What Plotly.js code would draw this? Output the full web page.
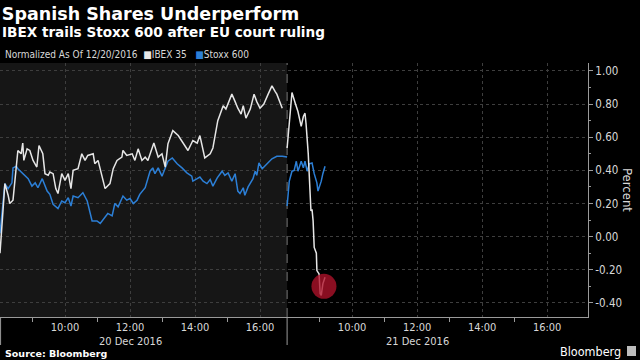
<!DOCTYPE html>
<html>
<head>
<meta charset="utf-8">
<script src="https://cdn.plot.ly/plotly-3.0.1.min.js"></script>
<style>
html,body{margin:0;padding:0;background:#000;}
#chart{width:640px;height:360px;}
</style>
</head>
<body>
<div id="chart"></div>
<script>
// ---------- DATA ----------
const seriesNames = ["IBEX 35", "Stoxx 600"];
const dayDates = ["2016-12-20", "2016-12-21"];
const dayLabels = ["20 Dec 2016", "21 Dec 2016"];
const majorHours = [10, 12, 14, 16];
const hourLabels = ["10:00", "12:00", "14:00", "16:00"];
const minorHours = [9, 11, 13, 15];
const yTickValues = [-0.4, -0.2, 0, 0.2, 0.4, 0.6, 0.8, 1.0];
const yTickLabels = ["-0.40", "-0.20", "0.00", "0.20", "0.40", "0.60", "0.80", "1.00"];

const ibexTimes = [
 "2016-12-20 08:00","2016-12-20 08:04","2016-12-20 08:09","2016-12-20 08:15","2016-12-20 08:18","2016-12-20 08:24",
 "2016-12-20 08:30","2016-12-20 08:33","2016-12-20 08:39","2016-12-20 08:42","2016-12-20 08:44","2016-12-20 08:50",
 "2016-12-20 08:55","2016-12-20 09:01","2016-12-20 09:08","2016-12-20 09:12","2016-12-20 09:19","2016-12-20 09:23",
 "2016-12-20 09:29","2016-12-20 09:32","2016-12-20 09:38","2016-12-20 09:43","2016-12-20 09:47","2016-12-20 09:54",
 "2016-12-20 10:00","2016-12-20 10:06","2016-12-20 10:11","2016-12-20 10:15","2016-12-20 10:24","2016-12-20 10:31",
 "2016-12-20 10:37","2016-12-20 10:42","2016-12-20 10:52","2016-12-20 10:55","2016-12-20 11:01","2016-12-20 11:10",
 "2016-12-20 11:14","2016-12-20 11:23","2016-12-20 11:29","2016-12-20 11:36","2016-12-20 11:45","2016-12-20 11:47",
 "2016-12-20 11:54","2016-12-20 12:04","2016-12-20 12:09","2016-12-20 12:15","2016-12-20 12:22","2016-12-20 12:28",
 "2016-12-20 12:33","2016-12-20 12:44","2016-12-20 12:52","2016-12-20 12:59","2016-12-20 13:05","2016-12-20 13:10",
 "2016-12-20 13:19","2016-12-20 13:29","2016-12-20 13:38","2016-12-20 13:47","2016-12-20 13:56","2016-12-20 14:04",
 "2016-12-20 14:09","2016-12-20 14:15","2016-12-20 14:18","2016-12-20 14:28","2016-12-20 14:33","2016-12-20 14:42",
 "2016-12-20 14:46","2016-12-20 14:52","2016-12-20 14:57","2016-12-20 15:08","2016-12-20 15:14","2016-12-20 15:19",
 "2016-12-20 15:25","2016-12-20 15:29","2016-12-20 15:34","2016-12-20 15:42","2016-12-20 15:49","2016-12-20 15:54",
 "2016-12-20 16:00","2016-12-20 16:07","2016-12-20 16:15","2016-12-20 16:22","2016-12-20 16:28","2016-12-20 16:31",
 "2016-12-20 16:41",
 "2016-12-21 08:00","2016-12-21 08:09","2016-12-21 08:15","2016-12-21 08:20","2016-12-21 08:26","2016-12-21 08:30",
 "2016-12-21 08:33","2016-12-21 08:35","2016-12-21 08:39","2016-12-21 08:41","2016-12-21 08:44","2016-12-21 08:46",
 "2016-12-21 08:48","2016-12-21 08:50","2016-12-21 08:54","2016-12-21 08:55","2016-12-21 08:59","2016-12-21 09:01",
 "2016-12-21 09:03","2016-12-21 09:06","2016-12-21 09:10"
];
const ibexValues = [
 -0.10,0.10,0.32,0.25,0.20,0.22,
 0.40,0.52,0.50,0.565,0.46,0.53,
 0.52,0.46,0.42,0.55,0.50,0.38,
 0.37,0.39,0.38,0.29,0.26,0.38,
 0.34,0.38,0.29,0.40,0.41,0.50,
 0.46,0.49,0.50,0.44,0.46,0.34,
 0.29,0.32,0.41,0.46,0.48,0.52,
 0.49,0.50,0.46,0.53,0.46,0.48,
 0.46,0.565,0.48,0.50,0.42,0.56,
 0.64,0.61,0.565,0.52,0.58,0.565,
 0.61,0.52,0.475,0.50,0.535,0.70,
 0.74,0.79,0.77,0.86,0.815,0.775,
 0.74,0.79,0.715,0.77,0.86,0.815,
 0.775,0.80,0.86,0.91,0.875,0.86,
 0.775,
 0.535,0.87,0.805,0.755,0.665,0.725,
 0.745,0.68,0.50,0.32,0.155,0.165,
 0.095,-0.065,-0.10,-0.205,-0.225,-0.345,
 -0.355,-0.285,-0.245
];

const stoxxTimes = [
 "2016-12-20 08:00","2016-12-20 08:09","2016-12-20 08:15","2016-12-20 08:22","2016-12-20 08:24","2016-12-20 08:30",
 "2016-12-20 08:33","2016-12-20 08:42","2016-12-20 08:52","2016-12-20 08:59","2016-12-20 09:05","2016-12-20 09:10",
 "2016-12-20 09:18","2016-12-20 09:27","2016-12-20 09:32","2016-12-20 09:38","2016-12-20 09:47","2016-12-20 09:54",
 "2016-12-20 10:00","2016-12-20 10:06","2016-12-20 10:11","2016-12-20 10:15","2016-12-20 10:24","2016-12-20 10:33",
 "2016-12-20 10:41","2016-12-20 10:50","2016-12-20 10:59","2016-12-20 11:05","2016-12-20 11:14","2016-12-20 11:19",
 "2016-12-20 11:27","2016-12-20 11:32","2016-12-20 11:38","2016-12-20 11:47","2016-12-20 11:54","2016-12-20 12:00",
 "2016-12-20 12:06","2016-12-20 12:13","2016-12-20 12:18","2016-12-20 12:28","2016-12-20 12:37","2016-12-20 12:42",
 "2016-12-20 12:46","2016-12-20 12:52","2016-12-20 12:59","2016-12-20 13:05","2016-12-20 13:10","2016-12-20 13:18",
 "2016-12-20 13:27","2016-12-20 13:36","2016-12-20 13:45","2016-12-20 13:54","2016-12-20 13:56","2016-12-20 14:04",
 "2016-12-20 14:09","2016-12-20 14:15","2016-12-20 14:22","2016-12-20 14:28","2016-12-20 14:33","2016-12-20 14:41",
 "2016-12-20 14:50","2016-12-20 14:55","2016-12-20 15:01","2016-12-20 15:08","2016-12-20 15:14","2016-12-20 15:19",
 "2016-12-20 15:23","2016-12-20 15:29","2016-12-20 15:32","2016-12-20 15:38","2016-12-20 15:47","2016-12-20 15:51",
 "2016-12-20 15:54","2016-12-20 15:58","2016-12-20 16:04","2016-12-20 16:13","2016-12-20 16:22","2016-12-20 16:31",
 "2016-12-20 16:41","2016-12-20 16:50",
 "2016-12-21 08:00","2016-12-21 08:04","2016-12-21 08:09","2016-12-21 08:13","2016-12-21 08:17","2016-12-21 08:20",
 "2016-12-21 08:26","2016-12-21 08:30","2016-12-21 08:33","2016-12-21 08:37","2016-12-21 08:41","2016-12-21 08:46",
 "2016-12-21 08:50","2016-12-21 08:55","2016-12-21 08:57","2016-12-21 09:03","2016-12-21 09:06","2016-12-21 09:10"
];
const stoxxValues = [
 0.02,0.32,0.29,0.325,0.415,0.425,
 0.41,0.38,0.35,0.305,0.325,0.295,
 0.35,0.275,0.255,0.195,0.17,0.215,
 0.205,0.235,0.185,0.245,0.235,0.265,
 0.215,0.095,0.095,0.08,0.115,0.14,
 0.125,0.20,0.18,0.245,0.22,0.23,
 0.20,0.22,0.255,0.295,0.395,0.415,
 0.38,0.415,0.365,0.415,0.455,0.475,
 0.44,0.415,0.385,0.365,0.335,0.35,
 0.36,0.335,0.32,0.345,0.305,0.355,
 0.395,0.37,0.385,0.335,0.38,0.275,
 0.26,0.295,0.25,0.30,0.35,0.395,
 0.37,0.445,0.41,0.44,0.47,0.485,
 0.485,0.48,
 0.185,0.335,0.395,0.40,0.455,0.395,
 0.455,0.415,0.455,0.395,0.44,0.445,
 0.38,0.325,0.275,0.335,0.38,0.425
];

const highlightTime = ["2016-12-21 09:08"];
const highlightValue = [-0.30];

// ---------- AXIS MAPPING (overnight gap removed, like a rangebreak) ----------
const SESSION_OPEN = 8;        // 08:00
const SESSION_SPAN = 8.833;    // displayed session length per day (hours)
const AXIS_END = 18.09;

function toAxis(ts) {
  const [d, hm] = ts.split(" ");
  const [h, m] = hm.split(":").map(Number);
  const dayIdx = dayDates.indexOf(d);
  return dayIdx * SESSION_SPAN + (h + m / 60 - SESSION_OPEN);
}
function hourToAxis(dayIdx, h) { return dayIdx * SESSION_SPAN + (h - SESSION_OPEN); }

function buildXY(times, values) {
  const x = [], y = [];
  let prevDay = null;
  times.forEach((t, i) => {
    const d = t.split(" ")[0];
    if (prevDay !== null && d !== prevDay) { x.push(null); y.push(null); }
    x.push(toAxis(t)); y.push(values[i]);
    prevDay = d;
  });
  return {x, y};
}

const ibex = buildXY(ibexTimes, ibexValues);
const stoxx = buildXY(stoxxTimes, stoxxValues);

const tickvals = [], ticktext = [], minorvals = [];
dayDates.forEach((d, di) => {
  majorHours.forEach((h, hi) => {
    tickvals.push(hourToAxis(di, h));
    ticktext.push(hourLabels[hi]);
  });
  minorHours.forEach(h => minorvals.push(hourToAxis(di, h)));
});

const WHITE = "#e6e6e6", BLUE = "#2c7fd6";
const FONT = "'DejaVu Sans Condensed', 'DejaVu Sans', sans-serif";
const BOLD = "'DejaVu Sans', sans-serif";

const traces = [
  {x: stoxx.x, y: stoxx.y, name: seriesNames[1], type: "scatter", mode: "lines",
   line: {color: BLUE, width: 1.5}, connectgaps: false},
  {x: ibex.x, y: ibex.y, name: seriesNames[0], type: "scatter", mode: "lines",
   line: {color: WHITE, width: 1.5}, connectgaps: false},
  {x: highlightTime.map(toAxis), y: highlightValue, type: "scatter", mode: "markers",
   marker: {size: 25, color: "rgba(175,18,42,0.78)", line: {width: 0}}}
];

const PW = 588, PH = 254, PT = 63;
const px = v => v / PW;
const py = v => (PT + PH - v) / PH;

const dayAnnotations = dayLabels.map((lbl, di) => ({
  text: lbl, xref: "x", yref: "paper", x: hourToAxis(di, 12), y: py(341),
  xanchor: "center", yanchor: "middle", showarrow: false,
  font: {family: FONT, size: 11, color: "#d8d8d8"}
}));

const layout = {
  width: 640, height: 360,
  margin: {l: 0, r: 52, t: 63, b: 43, pad: 0},
  paper_bgcolor: "#000", plot_bgcolor: "#000",
  showlegend: false, hovermode: false,
  title: {text: "Spanish Shares Underperform", x: 2/640, xanchor: "left", xref: "paper",
          y: 1 - 14/360, yanchor: "middle", yref: "container",
          font: {family: BOLD, size: 17.5, color: "#fff", weight: 700}},
  xaxis: {
    range: [0, AXIS_END], fixedrange: true, zeroline: false,
    tickmode: "array", tickvals: tickvals, ticktext: ticktext,
    ticks: "", showgrid: true, gridcolor: "#3e3e3e", griddash: "dot", gridwidth: 1,
    showline: true, linecolor: "#9a9a9a", linewidth: 1,
    tickfont: {family: FONT, size: 11, color: "#d8d8d8"},
    minor: {tickmode: "array", tickvals: minorvals, ticks: "outside", ticklen: 4,
            tickcolor: "#9a9a9a", showgrid: false}
  },
  yaxis: {
    range: [-0.485, 1.048], fixedrange: true, side: "right", zeroline: false,
    tickmode: "array", tickvals: yTickValues, ticktext: yTickLabels,
    ticks: "outside", ticklen: 4, tickcolor: "#9a9a9a",
    showgrid: true, gridcolor: "#3e3e3e", griddash: "dot", gridwidth: 1,
    showline: true, linecolor: "#9a9a9a", linewidth: 1,
    tickfont: {family: FONT, size: 11.5, color: "#d8d8d8"},
    minor: {dtick: 0.1, ticks: "outside", ticklen: 2, tickcolor: "#9a9a9a", showgrid: false}
  },
  shapes: [
    {type: "rect", xref: "x", yref: "paper", x0: 0, x1: SESSION_SPAN, y0: 0, y1: 1,
     fillcolor: "#161616", line: {width: 0}, layer: "below"},
    {type: "line", xref: "x", yref: "paper", x0: SESSION_SPAN, x1: SESSION_SPAN, y0: 0, y1: 1,
     line: {color: "#7a7a7a", width: 1, dash: "dash"}, layer: "between"},
    {type: "line", xref: "paper", yref: "paper", x0: 0.001, x1: 0.001, y0: 0, y1: py(345),
     line: {color: "#9a9a9a", width: 1}},
    {type: "line", xref: "paper", yref: "paper", x0: SESSION_SPAN / AXIS_END, x1: SESSION_SPAN / AXIS_END,
     y0: 0, y1: py(345), line: {color: "#9a9a9a", width: 1}},
    {type: "rect", xref: "paper", yref: "paper", x0: px(627), x1: px(636), y0: py(356), y1: py(346),
     fillcolor: "#bdbdbd", line: {width: 0}}
  ],
  annotations: [
    {text: "IBEX trails Stoxx 600 after EU court ruling", xref: "paper", yref: "paper",
     x: 0, y: py(32), xanchor: "left", yanchor: "middle", showarrow: false,
     font: {family: BOLD, size: 13.6, color: "#fff", weight: 700}},
    {text: "Normalized As Of 12/20/2016  <span style='color:" + WHITE + "'>■</span>" + seriesNames[0] +
           "   <span style='color:" + BLUE + "'>■</span>" + seriesNames[1],
     xref: "paper", yref: "paper", x: px(3), y: py(54), xanchor: "left", yanchor: "middle",
     showarrow: false, font: {family: FONT, size: 10, color: "#d8d8d8"}},
    {text: "Percent", xref: "paper", yref: "paper", x: px(628), y: py(190), xanchor: "center",
     yanchor: "middle", textangle: 90, showarrow: false,
     font: {family: FONT, size: 13, color: "#d8d8d8"}},
    {text: "Source: Bloomberg", xref: "paper", yref: "paper", x: px(3), y: py(353),
     xanchor: "left", yanchor: "middle", showarrow: false,
     font: {family: BOLD, size: 9.5, color: "#fff", weight: 700}},
    {text: "Bloomberg", xref: "paper", yref: "paper", x: px(623), y: py(351), xanchor: "right",
     yanchor: "middle", showarrow: false, font: {family: FONT, size: 12.5, color: "#fff"}}
  ].concat(dayAnnotations)
};

Plotly.newPlot("chart", traces, layout, {displayModeBar: false, staticPlot: true});
</script>
</body>
</html>
